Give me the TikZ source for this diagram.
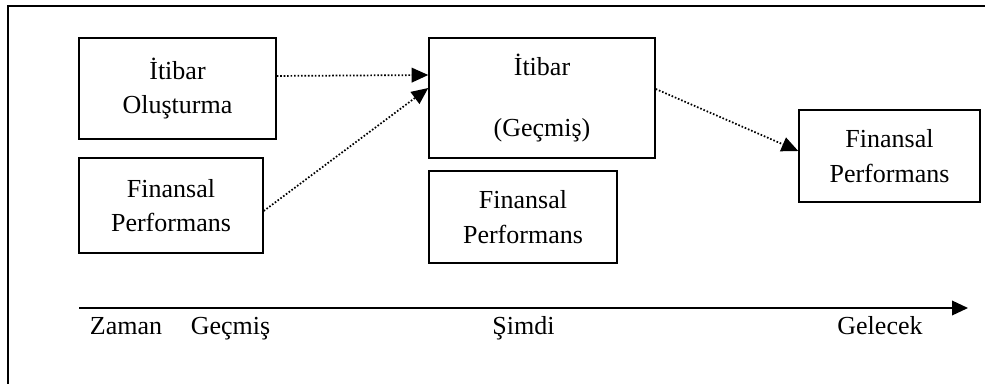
\documentclass[tikz,border=0pt]{standalone}
\usepackage{fontspec}
\setmainfont{Liberation Serif}
\usetikzlibrary{arrows.meta}
\begin{document}
\begin{tikzpicture}[x=0.75pt,y=-0.75pt,
  box/.style={draw,line width=1.1pt,inner sep=0pt,align=center,
    font=\fontsize{19.5}{26}\selectfont},
  lbl/.style={anchor=base,inner sep=0pt,font=\fontsize{19.5}{26}\selectfont},
  dotarrow/.style={line width=1.3pt,dash pattern=on 1.2pt off 1.4pt,
    -{Triangle[length=12.5pt,width=11pt]}},
  axis/.style={line width=1.1pt,-{Triangle[length=12pt,width=11pt]}}]
\useasboundingbox (0,0) rectangle (985,383);
\clip (0,0) rectangle (985,383);
\draw[line width=1.7pt] (8,6) rectangle (995,395);
\node[box,minimum width=197*0.75pt,minimum height=101*0.75pt] (b1) at (177.5,88.5) {İtibar\\Oluşturma};
\node[box,minimum width=184*0.75pt,minimum height=95*0.75pt] (b2) at (171,205.5) {Finansal\\Performans};
\node[box,minimum width=226*0.75pt,minimum height=120*0.75pt] (b3) at (542,98) {İtibar\\[20pt](Geçmiş)};
\node[box,minimum width=188*0.75pt,minimum height=92*0.75pt] (b4) at (523,217) {Finansal\\Performans};
\node[box,minimum width=181*0.75pt,minimum height=92*0.75pt] (b5) at (889.5,156) {Finansal\\Performans};
\draw[dotarrow] ([yshift=9.4pt]b1.east) -- ([yshift=17.25pt]b3.west);
\draw[dotarrow] ([yshift=-4.1pt]b2.east) -- ([yshift=7.5pt]b3.west);
\draw[dotarrow] ([yshift=6.75pt]b3.east) -- ([yshift=3.75pt]b5.west);
\coordinate (ax0) at (79,308);
\coordinate (ax1) at (968,308);
\draw[axis] (ax0) -- (ax1);
\node[lbl] (zaman) at (126,334) {Zaman};
\node[lbl] (gecmis) at (230.5,334) {Geçmiş};
\node[lbl] (simdi) at (523.5,334) {Şimdi};
\node[lbl] (gelecek) at (880,334) {Gelecek};
\end{tikzpicture}
\end{document}
